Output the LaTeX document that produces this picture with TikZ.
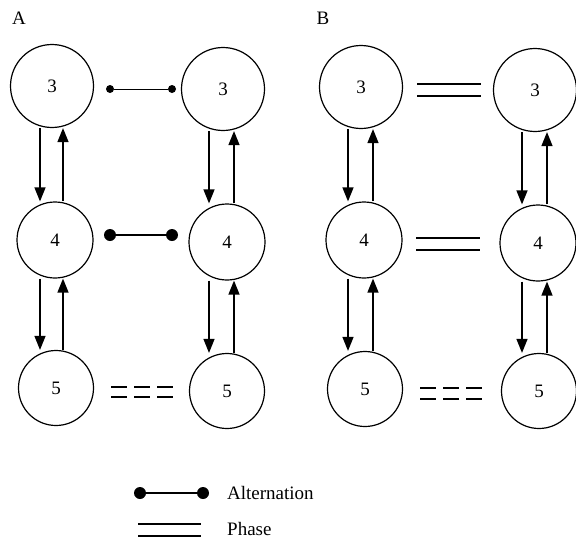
\documentclass[tikz,border=0pt]{standalone}
\usepackage{fontspec}
\setmainfont{Liberation Serif}
\usetikzlibrary{arrows.meta}
\tikzset{
  st/.style={circle,draw,line width=1.2pt,inner sep=0pt,font=\fontsize{19}{19}\selectfont},
  c3/.style={st,minimum size=83pt},
  c4/.style={st,minimum size=76pt},
  c5/.style={st,minimum size=75pt},
  arr/.style={line width=1.4pt,-{Triangle[length=14pt,width=11pt]}},
  alt/.style={line width=1pt},
  dotsm/.style={circle,fill,inner sep=0pt,minimum size=8pt},
  dotbg/.style={circle,fill,inner sep=0pt,minimum size=12pt},
  ph/.style={line width=1.1pt},
  phd/.style={line width=1.1pt,dash pattern=on 16pt off 7pt},
  lbl/.style={font=\fontsize{19}{19}\selectfont,inner sep=0pt}
}
\begin{document}
\begin{tikzpicture}[x=1pt,y=-1pt]
\useasboundingbox (0,0) rectangle (576,541);
% labels
\node[lbl] (lA) at (19,18) {A};
\node[lbl] (lB) at (323,18) {B};
% Panel A circles
\node[c3] (a3l) at (52,86) {3};
\node[c3] (a3r) at (223,89) {3};
\node[c4] (a4l) at (55,240) {4};
\node[c4] (a4r) at (227,242) {4};
\node[c5] (a5l) at (56,388) {5};
\node[c5] (a5r) at (227,391) {5};
% Panel B circles
\node[c3] (b3l) at (361,87) {3};
\node[c3] (b3r) at (535,90) {3};
\node[c4] (b4l) at (364,240) {4};
\node[c4] (b4r) at (538,243) {4};
\node[c5] (b5l) at (365,389) {5};
\node[c5] (b5r) at (539,391) {5};
% vertical arrows panel A
\draw[arr] ([xshift=-12pt]a3l.south) -- ([xshift=-12pt]a3l.south |- a4l.north);
\draw[arr] ([xshift=8pt]a4l.north) -- ([xshift=8pt]a4l.north |- a3l.south);
\draw[arr] ([xshift=-15pt]a4l.south) -- ([xshift=-15pt]a4l.south |- a5l.north);
\draw[arr] ([xshift=7pt]a5l.north) -- ([xshift=7pt]a5l.north |- a4l.south);
\draw[arr] ([xshift=-14pt]a3r.south) -- ([xshift=-14pt]a3r.south |- a4r.north);
\draw[arr] ([xshift=7pt]a4r.north) -- ([xshift=7pt]a4r.north |- a3r.south);
\draw[arr] ([xshift=-18pt]a4r.south) -- ([xshift=-18pt]a4r.south |- a5r.north);
\draw[arr] ([xshift=7pt]a5r.north) -- ([xshift=7pt]a5r.north |- a4r.south);
% vertical arrows panel B
\draw[arr] ([xshift=-13pt]b3l.south) -- ([xshift=-13pt]b3l.south |- b4l.north);
\draw[arr] ([xshift=9pt]b4l.north) -- ([xshift=9pt]b4l.north |- b3l.south);
\draw[arr] ([xshift=-16pt]b4l.south) -- ([xshift=-16pt]b4l.south |- b5l.north);
\draw[arr] ([xshift=8pt]b5l.north) -- ([xshift=8pt]b5l.north |- b4l.south);
\draw[arr] ([xshift=-13pt]b3r.south) -- ([xshift=-13pt]b3r.south |- b4r.north);
\draw[arr] ([xshift=9pt]b4r.north) -- ([xshift=9pt]b4r.north |- b3r.south);
\draw[arr] ([xshift=-16pt]b4r.south) -- ([xshift=-16pt]b4r.south |- b5r.north);
\draw[arr] ([xshift=8pt]b5r.north) -- ([xshift=8pt]b5r.north |- b4r.south);
% alternation connectors
\node[dotsm] (d1) at (110,89) {};
\node[dotsm] (d2) at (172,89) {};
\draw[alt] (d1) -- (d2);
\node[dotbg] (d3) at (110,235) {};
\node[dotbg] (d4) at (172,235) {};
\draw[alt,line width=1.3pt] (d3) -- (d4);
% phase double lines
\coordinate (e1) at (417,84); \coordinate (e2) at (481,84);
\coordinate (e3) at (417,96); \coordinate (e4) at (481,96);
\draw[ph] (e1) -- (e2);
\draw[ph] (e3) -- (e4);
\coordinate (e5) at (416,238); \coordinate (e6) at (480,238);
\coordinate (e7) at (416,250); \coordinate (e8) at (480,250);
\draw[ph] (e5) -- (e6);
\draw[ph] (e7) -- (e8);
% dashed double lines
\coordinate (f1) at (111,387); \coordinate (f2) at (173,387);
\coordinate (f3) at (111,397); \coordinate (f4) at (173,397);
\draw[phd] (f1) -- (f2);
\draw[phd] (f3) -- (f4);
\coordinate (g1) at (420,388); \coordinate (g2) at (485,388);
\coordinate (g3) at (420,399); \coordinate (g4) at (485,399);
\draw[phd] (g1) -- (g2);
\draw[phd] (g3) -- (g4);
% legend
\node[dotbg] (L1) at (140,493) {};
\node[dotbg] (L2) at (203,493) {};
\draw[alt,line width=1.3pt] (L1) -- (L2);
\node[lbl,anchor=west] (tAlt) at (227,493) {Alternation};
\coordinate (h1) at (138,524); \coordinate (h2) at (201,524);
\coordinate (h3) at (138,536); \coordinate (h4) at (201,536);
\draw[ph] (h1) -- (h2);
\draw[ph] (h3) -- (h4);
\node[lbl,anchor=west] (tPh) at (227,529) {Phase};
\end{tikzpicture}
\end{document}
